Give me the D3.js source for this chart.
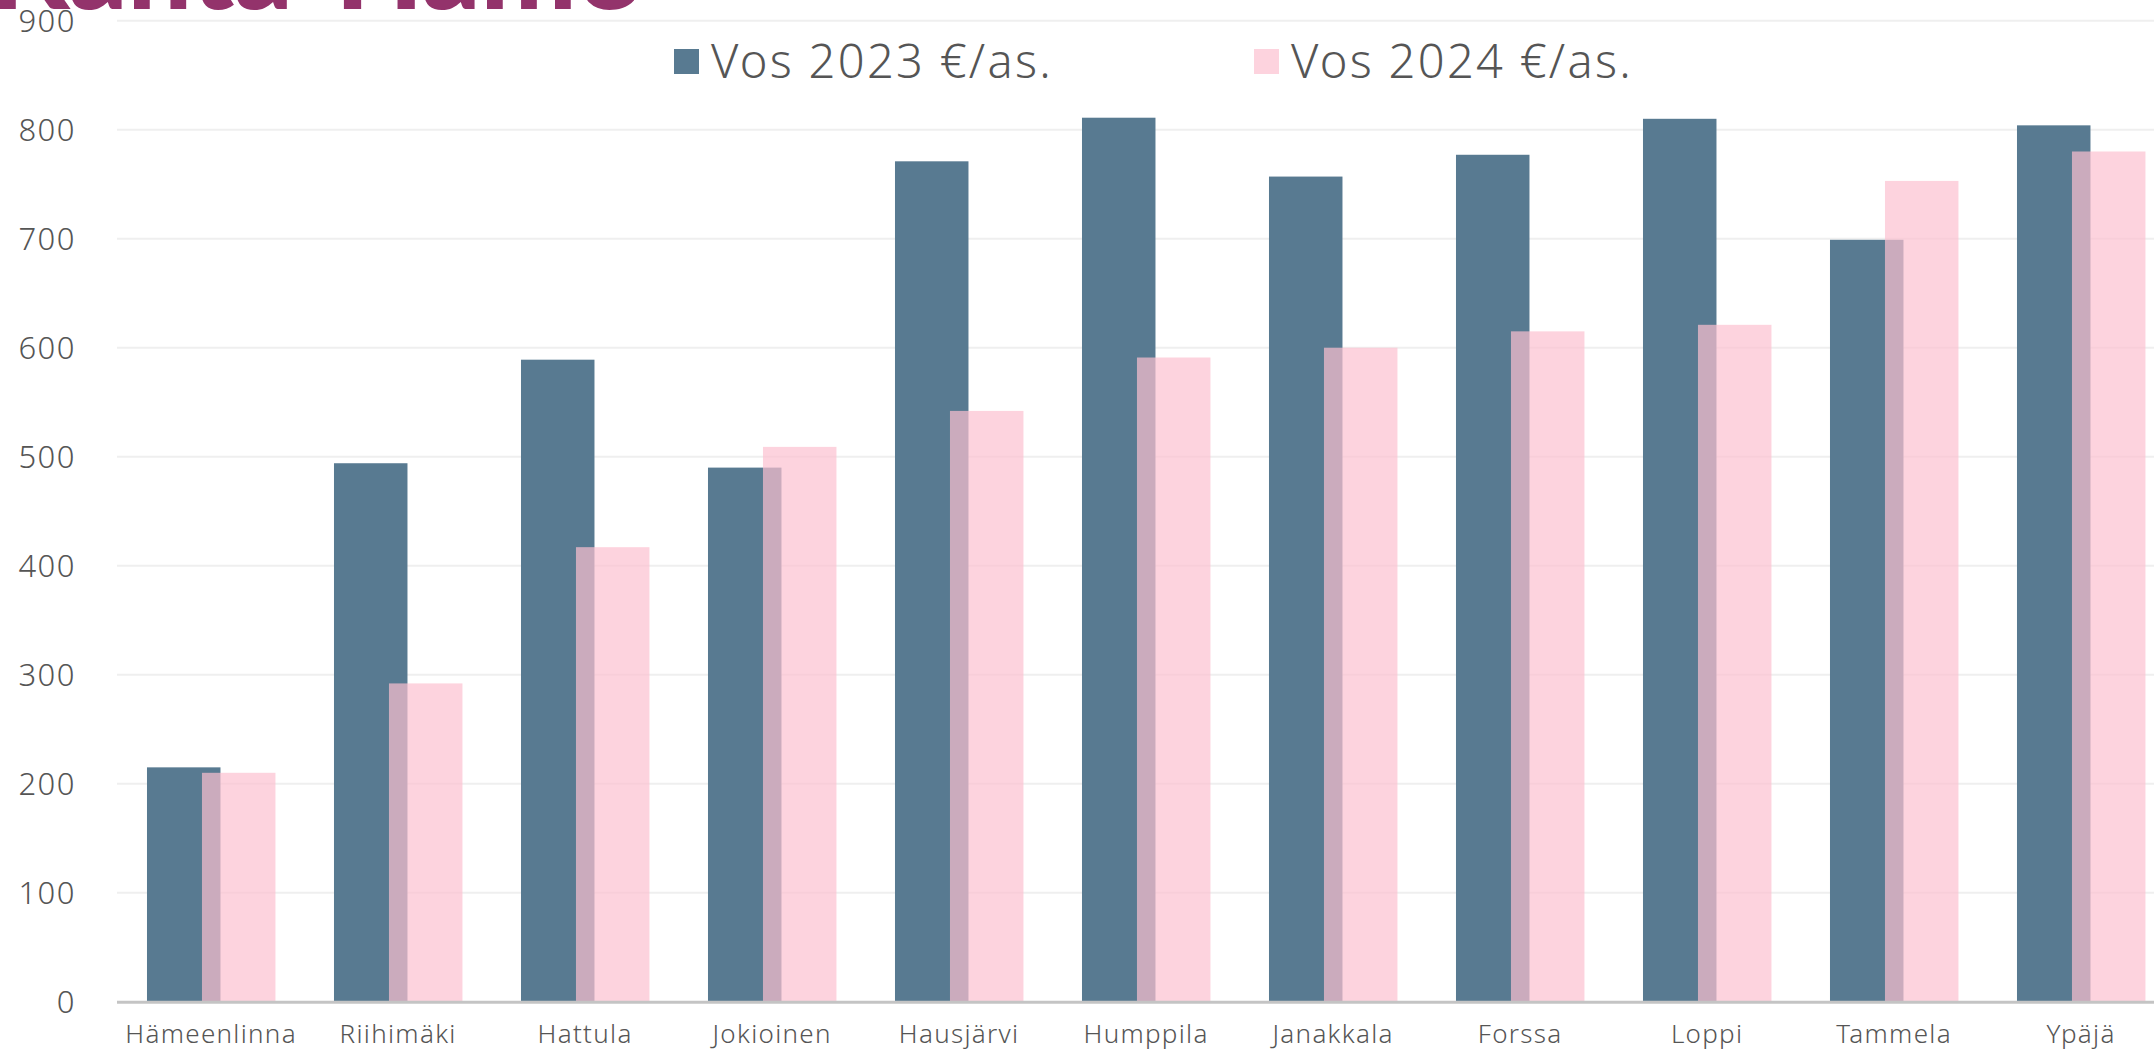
<!DOCTYPE html>
<meta charset="utf-8">
<style>
body { margin: 0; background: #fff; }
text { font-family: "Noto Sans", sans-serif; font-weight: 300; fill: #555; }
.grid line { stroke: #efefef; stroke-width: 2px; }
.title { font-family: Lato, sans-serif; font-weight: 900; fill: #93336b; }
</style>
<svg width="2154" height="1050"></svg>
<script src="https://d3js.org/d3.v7.min.js"></script>
<script>

var categories = ["Hämeenlinna", "Riihimäki", "Hattula", "Jokioinen", "Hausjärvi", "Humppila",
                  "Janakkala", "Forssa", "Loppi", "Tammela", "Ypäjä"];
var vos2023 = [215, 494, 589, 490, 771, 811, 757, 777, 810, 699, 804];
var vos2024 = [210, 292, 417, 509, 542, 591, 600, 615, 621, 753, 780];
var seriesNames = ["Vos 2023 €/as.", "Vos 2024 €/as."];
var yTicks = [0, 100, 200, 300, 400, 500, 600, 700, 800, 900];

var svg = d3.select("svg"),
    width = +svg.attr("width"),
    height = +svg.attr("height");

var plotLeft = 118, plotRight = 118 + 187 * 11, plotTop = 20.7, plotBottom = 1001.7;

var x = d3.scaleBand().domain(categories).range([plotLeft, plotRight]);
var y = d3.scaleLinear().domain([0, 900]).range([plotBottom, plotTop]);
var bw = x.bandwidth();

// title, mostly cut off at the top
svg.append("text")
    .attr("class", "title")
    .attr("x", -10)
    .attr("y", 9)
    .style("font-size", "114px")
    .text("Kanta-Häme");

// gridlines
svg.append("g")
    .attr("class", "grid")
  .selectAll("line")
  .data(yTicks.filter(function(d) { return d > 0; }))
  .enter().append("line")
    .attr("x1", plotLeft - 1)
    .attr("x2", width)
    .attr("y1", function(d) { return y(d); })
    .attr("y2", function(d) { return y(d); });

// y labels
svg.append("g")
  .selectAll("text")
  .data(yTicks)
  .enter().append("text")
    .attr("x", 76)
    .attr("y", function(d) { return y(d) + 11; })
    .attr("text-anchor", "end")
    .style("font-size", "31px")
    .style("letter-spacing", "1.5px")
    .text(function(d) { return d; });

// bars
var groups = svg.append("g")
  .selectAll("g")
  .data(categories)
  .enter().append("g");

groups.append("rect")
    .attr("x", function(d) { return x(d) + bw * 0.155; })
    .attr("width", bw * 0.393)
    .attr("y", function(d, i) { return y(vos2023[i]); })
    .attr("height", function(d, i) { return y(0) - y(vos2023[i]); })
    .attr("fill", "#587a91");

groups.append("rect")
    .attr("x", function(d) { return x(d) + bw * 0.449; })
    .attr("width", bw * 0.393)
    .attr("y", function(d, i) { return y(vos2024[i]); })
    .attr("height", function(d, i) { return y(0) - y(vos2024[i]); })
    .attr("fill", "#fcc0d0")
    .attr("fill-opacity", 0.7);

// baseline
svg.append("line")
    .attr("x1", plotLeft - 1)
    .attr("x2", width)
    .attr("y1", y(0) + 0.5)
    .attr("y2", y(0) + 0.5)
    .attr("stroke", "#c4c4c4")
    .attr("stroke-width", 3);

// x labels
svg.append("g")
  .selectAll("text")
  .data(categories)
  .enter().append("text")
    .attr("x", function(d) { return x(d) + bw * 0.498; })
    .attr("y", 1043)
    .attr("text-anchor", "middle")
    .style("font-size", "26px")
    .style("letter-spacing", "1.3px")
    .text(function(d) { return d; });

// legend
var legendColors = ["#587a91", "#fdd3de"];
var legendX = [674, 1254];
var legend = svg.append("g")
  .selectAll("g")
  .data(seriesNames)
  .enter().append("g")
    .attr("transform", function(d, i) { return "translate(" + legendX[i] + ",0)"; });

legend.append("rect")
    .attr("x", 0)
    .attr("y", 49)
    .attr("width", 25)
    .attr("height", 25)
    .attr("fill", function(d, i) { return legendColors[i]; });

legend.append("text")
    .attr("x", 37)
    .attr("y", 78)
    .style("font-size", "47px")
    .style("letter-spacing", "2.3px")
    .text(function(d) { return d; });

</script>
